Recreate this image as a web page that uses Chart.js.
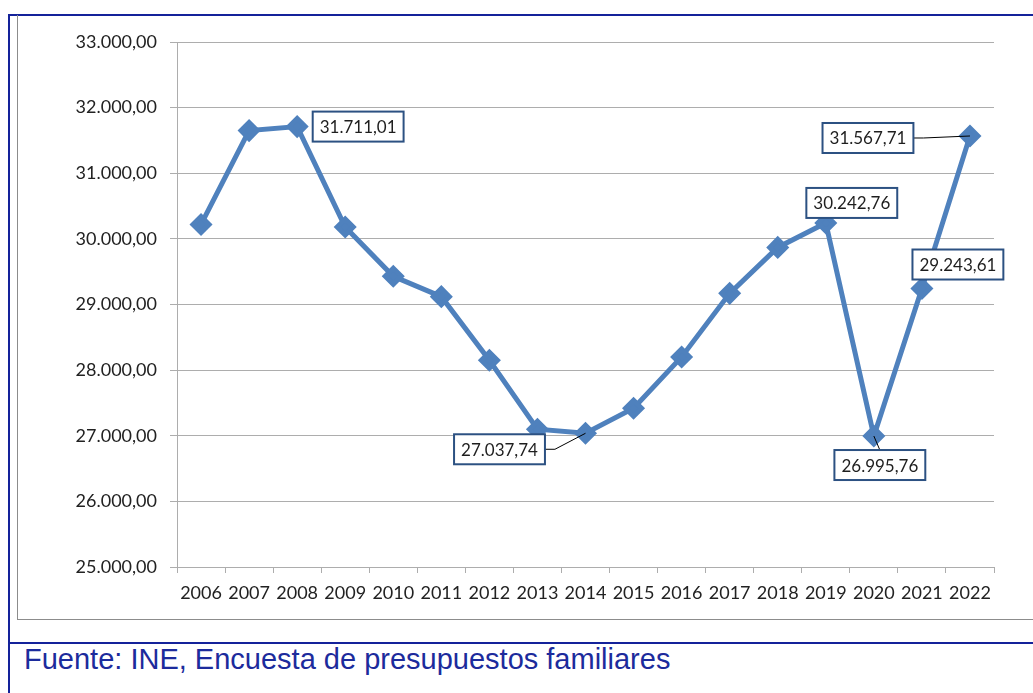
<!DOCTYPE html>
<html>
<head>
<meta charset="utf-8">
<script src="https://cdn.jsdelivr.net/npm/chart.js"></script>
<style>
body { margin: 0; background: #fff; width: 1033px; height: 693px; overflow: hidden; position: relative; }
#marco { position: absolute; left: 8px; top: 14px; width: 1100px; height: 700px; border-left: 2px solid #14229a; border-top: 2px solid #14229a; }
#caja { position: absolute; left: 17px; top: 15px; width: 1100px; height: 604px; border-left: 1px solid #8c8c8c; border-bottom: 1px solid #8c8c8c; }
#linea { position: absolute; left: 8px; top: 642px; width: 1100px; height: 2px; background: #14229a; }
#fuente { position: absolute; left: 24px; top: 643px; font-family: "Liberation Sans", Arial, sans-serif; font-size: 29px; color: #1c2b9c; }
canvas { position: absolute; left: 0; top: 0; }
</style>
</head>
<body>
<div id="marco"></div>
<div id="caja"></div>
<div id="linea"></div>
<div id="fuente">Fuente: INE, Encuesta de presupuestos familiares</div>
<canvas id="grafico" width="1033" height="693"></canvas>
<script>
const anios = ["2006", "2007", "2008", "2009", "2010", "2011", "2012", "2013", "2014",
    "2015", "2016", "2017", "2018", "2019", "2020", "2021", "2022"];
const gasto = [30220, 31650, 31711.01, 30180, 29430, 29120, 28150, 27100, 27037.74,
    27420, 28200, 29170, 29870, 30242.76, 26995.76, 29243.61, 31567.71];
const ejeMin = 25000;
const ejeMax = 33000;
const ejePaso = 1000;

// puntos con etiqueta: indice, desplazamiento del cuadro y si lleva linea guia
const etiquetas = [
    { i: 2, dx: 61, dy: 0, guia: false },
    { i: 8, dx: -86, dy: 16, guia: true },
    { i: 13, dx: 26, dy: -20, guia: false },
    { i: 14, dx: 6, dy: 29, guia: true },
    { i: 15, dx: 36, dy: -24, guia: false },
    { i: 16, dx: -102, dy: 2, guia: true }
];

function formato(v, dec) {
    let s = v.toFixed(dec);
    let partes = s.split(".");
    let entero = partes[0].replace(/\B(?=(\d{3})+(?!\d))/g, ".");
    return dec > 0 ? entero + "," + partes[1] : entero;
}

const pluginEtiquetas = {
    id: "etiquetas",
    afterDatasetsDraw(chart) {
        let ctx = chart.ctx;
        let puntos = chart.getDatasetMeta(0).data;
        ctx.save();
        ctx.font = "17px Lato";
        etiquetas.forEach(function(e) {
            let p = puntos[e.i];
            let texto = formato(gasto[e.i], 2);
            let w = ctx.measureText(texto).width + 14;
            let h = 30;
            let cx = p.x + e.dx, cy = p.y + e.dy;
            if (e.guia) {
                ctx.strokeStyle = "#000";
                ctx.lineWidth = 1;
                ctx.beginPath();
                if (Math.abs(e.dx) > w / 2) {
                    let bx = e.dx < 0 ? cx + w / 2 : cx - w / 2;
                    ctx.moveTo(bx, cy);
                    ctx.lineTo(bx + (e.dx < 0 ? 10 : -10), cy);
                } else {
                    ctx.moveTo(cx, cy - h / 2);
                }
                ctx.lineTo(p.x, p.y);
                ctx.stroke();
            }
            ctx.fillStyle = "#fff";
            ctx.fillRect(cx - w / 2, cy - h / 2, w, h);
            ctx.strokeStyle = "#2c5182";
            ctx.lineWidth = 2;
            ctx.strokeRect(cx - w / 2, cy - h / 2, w, h);
            ctx.fillStyle = "#1e1e1e";
            ctx.textAlign = "center";
            ctx.textBaseline = "middle";
            ctx.fillText(texto, cx, cy + 1);
        });
        ctx.restore();
    }
};

let ctx = document.getElementById("grafico").getContext("2d");

new Chart(ctx, {
    type: "line",
    data: {
        labels: anios,
        datasets: [{
            data: gasto,
            borderColor: "#4f81bd",
            backgroundColor: "#4f81bd",
            borderWidth: 5,
            pointStyle: "rectRot",
            pointRadius: 8,
            pointHoverRadius: 8,
            tension: 0,
            clip: false
        }]
    },
    options: {
        responsive: false,
        animation: false,
        layout: { padding: { left: 0, top: 42, right: 39, bottom: 0 } },
        plugins: {
            legend: { display: false },
            tooltip: { enabled: false }
        },
        scales: {
            x: {
                offset: true,
                afterFit: function(s) { s.height = 126; },
                grid: { offset: true, drawOnChartArea: false, tickLength: 6, color: "#adadad" },
                border: { color: "#adadad" },
                ticks: {
                    autoSkip: false, maxRotation: 0, padding: 9,
                    color: "#222", font: { family: "Lato", size: 18 }
                }
            },
            y: {
                min: ejeMin,
                max: ejeMax,
                afterFit: function(s) { s.width = 177; },
                grid: { color: "#adadad", tickLength: 7 },
                border: { color: "#adadad" },
                ticks: {
                    stepSize: ejePaso, padding: 13,
                    color: "#222", font: { family: "Lato", size: 18 },
                    callback: function(v) { return formato(v, 2); }
                }
            }
        }
    },
    plugins: [pluginEtiquetas]
});
</script>
</body>
</html>
